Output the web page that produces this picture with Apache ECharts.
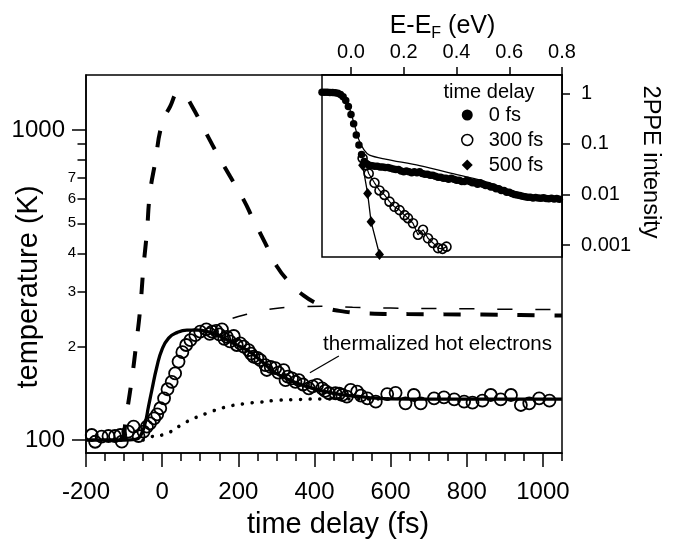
<!DOCTYPE html>
<html>
<head>
<meta charset="utf-8">
<script src="https://cdn.jsdelivr.net/npm/echarts@6/dist/echarts.min.js"></script>
<style>html,body{margin:0;padding:0;background:#fff}#c{width:675px;height:549px}</style>
</head>
<body>
<div id="c"></div>
<script>
// ---------- main panel: temperature vs time delay ----------
const timeMajorTicks = [-200, 0, 200, 400, 600, 800, 1000];
const timeMinorTicks = [-200,-150,-100,-50,0,50,100,150,200,250,300,350,400,450,500,550,600,650,700,750,800,850,900,950,1000,1050];
const tempMajorTicks = [100, 1000];
const tempMinorTicks = [200, 300, 400, 500, 600, 700, 800, 900];
const tempMinorLabels = [200, 300, 400, 500, 600, 700];

// measured electron temperature (open circles) [fs, K]
const measuredT = [
 [-185,103.8],[-176,98.7],[-159,102.5],[-141,103],[-124,103],[-110,103.8],[-106,98.8],[-89,106.4],
 [-75,110.4],[-62,103],[-49,106.4],[-40,110.4],[-32,113.2],[-21,117.5],[-13,121],[-5,126.6],[5,136.3],
 [14,145.8],[25,154],[34,164],[43,179],[53,192],[63,202.5],[74,210],[87,218],[100,223.6],[116,227.5],
 [125,220],[131,223.6],[142,225],[150,219],[157,227.5],[163,212],[170,215],[178,208],[188,216.5],
 [196,202.5],[205,205],[214,200],[227,195],[233,190],[240,185.6],[250,184],[258,181],[271,174.5],
 [275,168.2],[285,172],[297,170.5],[305,165],[319,168],[324,156],[330,160],[341,158],[350,154],
 [359,156],[370,151],[385,146.8],[395,149],[407,150.5],[420,146.8],[428,144],[438,141.5],[455,141.5],
 [465,141],[473,139.7],[485,138],[495,145],[512,143.2],[522,139],[539,136.3],[561,132.9],[591,140.7],
 [613,142],[639,131.3],[661,139.7],[679,131.3],[714,136.3],[740,137.3],[767,135.3],[793,133],[815,132],
 [841,133.9],[863,139.7],[889,135.3],[916,139.7],[942,129.7],[964,131.3],[990,136.3],[1017,133.9]
];
// model: thermalized electron temperature (thick solid)
const fitT = [
 [-200,100],[-100,100],[-70,100.5],[-58,102.5],[-45,113],[-36,128],[-27,145],[-14,172],[-1,195],[17,213],
 [39,222],[65,226],[96,226],[118,223.6],[150,217],[180,207],[223,195],[260,180],[293,166],[330,157],
 [370,150],[420,144],[470,140],[520,138],[560,136.5],[600,135.8],[700,135.5],[800,135.5],[900,135.5],[1050,135.5]
];
// thick dashed curve
const hotT = [
 [-110,100],[-100,104],[-97,113],[-80,156],[-67,210],[-58,263],[-49,362],[-40,470],[-32,625],[-18,790],
 [-1,1040],[21,1190],[43,1313],[61,1280],[78,1195],[113,990],[144,840],[179,706],[214,595],[240,512],
 [271,431],[302,362],[337,320],[372,292],[407,275],[430,268],[455,262],[540,256],[644,254.7],[740,254.3],
 [840,254],[940,253],[1050,252]
];
// thin dashed curve
const thinDashT = [
 [185,247],[215,253],[240,257],[292,265],[350,268.5],[420,270],[500,268],[600,266.5],[700,265.5],[800,265],[900,264],[1050,263.5]
];
// dotted curve (lattice)
const latticeT = [
 [-50,100],[-36,102],[12,105],[65,114.6],[118,122],[170,128],[223,131.3],[258,132.5],[293,134],[345,135],[433,135.6],[500,135.6],[600,135.5]
];
// annotation pointer
const pointerLine = [[464,186.6],[388,164.8]];

// ---------- inset: 2PPE spectra ----------
const energyTicks = [0, 0.2, 0.4, 0.6, 0.8];
const intensityTicks = [0.001, 0.01, 0.1, 1];
const spec0fs = [
 [-0.11,1.05],[-0.10,1.05],[-0.09,1.05],[-0.08,1.04],[-0.07,1.04],[-0.06,1.02],[-0.05,1.0],[-0.04,0.95],
 [-0.03,0.85],[-0.02,0.72],[-0.01,0.55],[0.0,0.38],[0.01,0.25],[0.02,0.15],[0.03,0.095],[0.04,0.062],
 [0.05,0.045],[0.06,0.040],[0.07,0.038],[0.08,0.037],[0.09,0.036],[0.10,0.036],[0.11,0.035],[0.12,0.035],
 [0.13,0.034],[0.14,0.034],[0.15,0.033],[0.16,0.032],[0.17,0.031],[0.18,0.031],[0.19,0.029],[0.20,0.028],
 [0.21,0.029],[0.22,0.028],[0.23,0.027],[0.24,0.028],[0.25,0.027],[0.26,0.028],[0.27,0.026],[0.28,0.025],
 [0.29,0.025],[0.30,0.024],[0.31,0.024],[0.32,0.023],[0.33,0.022],[0.34,0.022],[0.35,0.021],[0.36,0.021],
 [0.37,0.020],[0.38,0.021],[0.39,0.020],[0.40,0.019],[0.41,0.019],[0.42,0.018],[0.43,0.018],[0.44,0.019],
 [0.45,0.018],[0.46,0.017],[0.47,0.017],[0.48,0.016],[0.49,0.017],[0.50,0.016],[0.51,0.015],[0.52,0.015],
 [0.53,0.014],[0.54,0.014],[0.55,0.013],[0.56,0.013],[0.57,0.012],[0.58,0.012],[0.59,0.011],[0.60,0.011],
 [0.61,0.0105],[0.62,0.010],[0.63,0.0098],[0.64,0.0095],[0.65,0.0092],[0.66,0.009],[0.67,0.0088],[0.68,0.0088],
 [0.69,0.0085],[0.70,0.0087],[0.71,0.0085],[0.72,0.0084],[0.73,0.0086],[0.74,0.0083],[0.75,0.0082],[0.76,0.0084],
 [0.77,0.0081],[0.78,0.0083],[0.79,0.008]
];
const fit0fs = [
 [-0.11,1.05],[-0.06,1.03],[-0.03,0.87],[-0.01,0.58],[0.01,0.27],[0.03,0.12],[0.05,0.075],[0.07,0.06],
 [0.13,0.05],[0.26,0.037],[0.41,0.024],[0.51,0.018],[0.62,0.0114],[0.67,0.0098],[0.72,0.0088],[0.8,0.008]
];
const spec300fs = [
 [0.044,0.052],[0.057,0.038],[0.067,0.026],[0.089,0.017],[0.108,0.012],[0.127,0.0098],[0.146,0.0072],
 [0.165,0.0057],[0.184,0.0049],[0.203,0.0039],[0.216,0.0034],[0.235,0.0027],[0.254,0.0016],[0.273,0.002],
 [0.292,0.00136],[0.311,0.0011],[0.33,0.00087],[0.347,0.00084],[0.362,0.00093]
];
const spec500fs = [
 [0.044,0.038],[0.063,0.0105],[0.076,0.0029],[0.108,0.00065]
];

const FONT = "'Liberation Sans', Arial, sans-serif";
const black = '#000';
const chart = echarts.init(document.getElementById('c'), null, {renderer: 'canvas'});

const lineStyleAxis = {color: black, width: 1.5};

chart.setOption({
  animation: false,
  backgroundColor: '#fff',
  grid: [
    {left: 86, top: 75, width: 476, height: 378, show: true, borderColor: black, borderWidth: 1.5, backgroundColor: 'transparent'},
    {left: 322, top: 75, width: 240, height: 182, show: true, borderColor: black, borderWidth: 1.5, backgroundColor: '#fff'}
  ],
  xAxis: [
    {gridIndex: 0, type: 'value', min: -200, max: 1050, position: 'bottom',
     axisLine: {onZero: false, lineStyle: lineStyleAxis},
     axisTick: {customValues: timeMajorTicks, length: 14, lineStyle: lineStyleAxis},
     axisLabel: {customValues: timeMajorTicks, fontSize: 24, fontFamily: FONT, color: black, margin: 27,
                 formatter: v => String(v)},
     splitLine: {show: false}},
    {gridIndex: 0, type: 'value', min: -200, max: 1050, position: 'bottom',
     axisLine: {show: false, onZero: false},
     axisTick: {customValues: timeMinorTicks, length: 8, lineStyle: lineStyleAxis},
     axisLabel: {show: false}, splitLine: {show: false}},
    {gridIndex: 1, type: 'value', min: -0.11, max: 0.8, position: 'top',
     axisLine: {onZero: false, lineStyle: lineStyleAxis},
     axisTick: {customValues: energyTicks, length: 8, lineStyle: lineStyleAxis},
     axisLabel: {customValues: energyTicks, fontSize: 20, fontFamily: FONT, color: black, margin: 13,
                 formatter: v => Number(v).toFixed(1)},
     splitLine: {show: false}}
  ],
  yAxis: [
    {gridIndex: 0, type: 'log', min: 90.8, max: 1504, position: 'left',
     axisLine: {onZero: false, lineStyle: lineStyleAxis},
     axisTick: {customValues: tempMajorTicks, length: 14, lineStyle: lineStyleAxis},
     axisLabel: {customValues: tempMajorTicks, fontSize: 24, fontFamily: FONT, color: black, margin: 21,
                 formatter: v => String(Math.round(v))},
     splitLine: {show: false}},
    {gridIndex: 0, type: 'log', min: 90.8, max: 1504, position: 'left',
     axisLine: {show: false, onZero: false},
     axisTick: {customValues: tempMinorTicks, length: 8.5, lineStyle: lineStyleAxis},
     axisLabel: {customValues: tempMinorLabels, fontSize: 15, fontFamily: FONT, color: black, margin: 10,
                 formatter: v => String(Math.round(v / 100))},
     splitLine: {show: false}},
    {gridIndex: 1, type: 'log', min: 0.00058, max: 2.3, position: 'right',
     axisLine: {onZero: false, lineStyle: lineStyleAxis},
     axisTick: {customValues: intensityTicks, length: 8, lineStyle: lineStyleAxis},
     axisLabel: {customValues: intensityTicks, fontSize: 20, fontFamily: FONT, color: black, margin: 19,
                 formatter: v => String(Number(v.toPrecision(3)))},
     splitLine: {show: false}}
  ],
  legend: {
    data: [
      {name: '0 fs', icon: 'circle', itemStyle: {color: black, opacity: 1}},
      {name: '300 fs', icon: 'circle', itemStyle: {color: '#fff', borderColor: black, borderWidth: 1.5, opacity: 1}},
      {name: '500 fs', icon: 'diamond', itemStyle: {color: black, opacity: 1}}
    ],
    orient: 'vertical', left: 461, top: 105, itemWidth: 11, itemHeight: 11, itemGap: 5,
    padding: 0, selectedMode: false,
    textStyle: {fontSize: 20, fontFamily: FONT, color: black, padding: [0, 0, 0, 11]}
  },
  graphic: [
    {type: 'text', x: 338, y: 525, style: {text: 'time delay (fs)', font: '29px ' + FONT, fill: black, textAlign: 'center', textVerticalAlign: 'middle'}},
    {type: 'text', x: 28.5, y: 287, rotation: Math.PI / 2, style: {text: 'temperature (K)', font: '29px ' + FONT, fill: black, textAlign: 'center', textVerticalAlign: 'middle'}},
    {type: 'text', x: 442.5, y: 26, style: {text: '{a|E-E}{b|F}{a| (eV)}', textAlign: 'center', textVerticalAlign: 'middle', fill: black,
      rich: {a: {fontSize: 25, fontFamily: FONT, fill: black}, b: {fontSize: 16, fontFamily: FONT, fill: black, padding: [15, 0, 0, 0]}}}},
    {type: 'text', x: 650, y: 162, rotation: -Math.PI / 2, style: {text: '2PPE intensity', font: '23.5px ' + FONT, fill: black, textAlign: 'center', textVerticalAlign: 'middle'}},
    {type: 'text', x: 489, y: 92, style: {text: 'time delay', font: '20px ' + FONT, fill: black, textAlign: 'center', textVerticalAlign: 'middle'}},
    {type: 'text', x: 437.5, y: 344, style: {text: 'thermalized hot electrons', font: '20.5px ' + FONT, fill: black, textAlign: 'center', textVerticalAlign: 'middle'}}
  ],
  series: [
    {type: 'scatter', name: 'measured', xAxisIndex: 0, yAxisIndex: 0, data: measuredT, symbol: 'circle', symbolSize: 12,
     itemStyle: {color: 'rgba(0,0,0,0)', borderColor: black, borderWidth: 1.8, opacity: 1}, z: 2},
    {type: 'line', name: 'lattice', xAxisIndex: 0, yAxisIndex: 0, data: latticeT, showSymbol: false, smooth: true,
     lineStyle: {color: black, width: 3.5, type: [0.1, 9.6], cap: 'round'}, z: 3},
    {type: 'line', name: 'thin dashed', xAxisIndex: 0, yAxisIndex: 0, data: thinDashT, showSymbol: false, smooth: true,
     lineStyle: {color: black, width: 1.5, type: [15, 23]}, z: 3},
    {type: 'line', name: 'hot', xAxisIndex: 0, yAxisIndex: 0, data: hotT, showSymbol: false, smooth: true,
     lineStyle: {color: black, width: 4, type: [17, 20]}, z: 3},
    {type: 'line', name: 'fit', xAxisIndex: 0, yAxisIndex: 0, data: fitT, showSymbol: false, smooth: true,
     lineStyle: {color: black, width: 3.3}, z: 4},
    {type: 'line', name: 'pointer', xAxisIndex: 0, yAxisIndex: 0, data: pointerLine, showSymbol: false,
     lineStyle: {color: black, width: 1.3}, z: 4},
    {type: 'scatter', name: '0 fs', xAxisIndex: 2, yAxisIndex: 2, data: spec0fs, symbol: 'circle', symbolSize: 7.5,
     itemStyle: {color: black, opacity: 1}, z: 5},
    {type: 'line', name: '0 fs fit', xAxisIndex: 2, yAxisIndex: 2, data: fit0fs, showSymbol: false, smooth: 0.3,
     lineStyle: {color: black, width: 1.3}, z: 6},
    {type: 'line', name: '300 fs', xAxisIndex: 2, yAxisIndex: 2, data: spec300fs, symbol: 'circle', symbolSize: 9,
     itemStyle: {color: 'rgba(0,0,0,0)', borderColor: black, borderWidth: 1.6},
     lineStyle: {color: black, width: 1.2}, z: 6},
    {type: 'line', name: '500 fs', xAxisIndex: 2, yAxisIndex: 2, data: spec500fs, symbol: 'diamond', symbolSize: [9, 11],
     itemStyle: {color: black}, lineStyle: {color: black, width: 1.3}, z: 6}
  ]
});
</script>
</body>
</html>
